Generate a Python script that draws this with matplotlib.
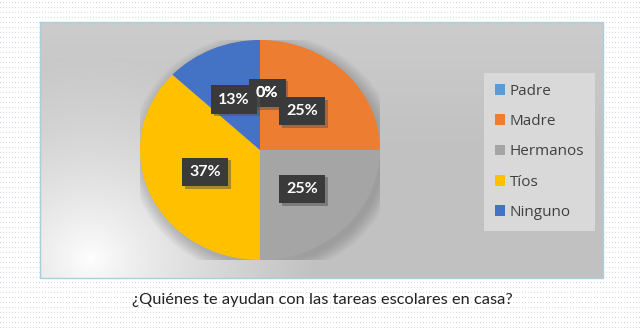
import matplotlib.pyplot as plt
import matplotlib.patheffects as pe
from matplotlib.patches import Circle
import numpy as np

categories = ["Padre", "Madre", "Hermanos", "Tíos", "Ninguno"]
values = [0, 25, 25, 37, 13]
colors = ["#5B9BD5", "#ED7D31", "#A5A5A5", "#FFC000", "#4472C4"]
title = "¿Quiénes te ayudan con las tareas escolares en casa?"

W, H = 640, 330
fig = plt.figure(figsize=(W / 100, H / 100), dpi=100)

# background: white page with faint dot grid, gray chart area with soft light spot
bg = np.ones((H, W, 3))
yy, xx = np.mgrid[0:H, 0:W]
dots = (yy % 5 == 2) & (xx % 3 == 0)
bg[dots] = np.array([0.84, 0.87, 0.90])

x0, x1, y0, y1 = 40, 603, 22, 278
by, bx = np.mgrid[y0:y1, x0:x1]
d = np.hypot((bx - 90) * 0.9, by - 258)
t = np.clip(d / 200, 0, 1) ** 0.8
gray = np.array([0.76, 0.76, 0.76])
top = np.clip((by - y0) / 120, 0, 1)[..., None]
gray_map = gray + (1 - top) * 0.04
bg[y0:y1, x0:x1] = (1 - t[..., None]) * 1.0 + t[..., None] * gray_map

ax_bg = fig.add_axes([0, 0, 1, 1])
ax_bg.imshow(bg, extent=[0, W, H, 0], aspect="auto", interpolation="nearest")
ax_bg.plot([x0, x1, x1, x0, x0], [y0, y0, y1, y1, y0], color="#a9cfdf", lw=1)
ax_bg.set_xlim(0, W)
ax_bg.set_ylim(H, 0)
ax_bg.axis("off")
ax_bg.text(322, 300, title, ha="center", va="center", fontsize=11.8,
           family="Lato", color="#222222")

# pie axes (slightly elliptical like the reference)
cx, cy, rx, ry = 260, 150, 120, 110
ax = fig.add_axes([(cx - rx) / W, (H - cy - ry) / H, 2 * rx / W, 2 * ry / H])

for i in range(10):
    ax.add_patch(Circle((0.03, -0.04), 1.0 + 0.012 * i, color="#555555",
                        alpha=0.035, lw=0, zorder=0))

label_font = dict(color="white", fontsize=11.5, fontweight="bold", family="Lato")
wedges, texts, autotexts = ax.pie(
    values, colors=colors, startangle=90, counterclock=False,
    autopct="%1.0f%%", pctdistance=0.5,
    wedgeprops=dict(linewidth=0), textprops=label_font,
)
for w in wedges:
    w.set_zorder(2)
for at in autotexts:
    at.set_zorder(5)
    at.set_bbox(dict(boxstyle="square,pad=0.45", fc="#3a3a3a", ec="none"))
    at.get_bbox_patch().set_path_effects([
        pe.SimplePatchShadow(offset=(2, -2), shadow_rgbFace="#555555", alpha=0.5),
        pe.Normal()])
# 0% box goes under the 13% box, but its text stays readable on top
zero = autotexts[0]
px, py = zero.get_position()
zx, zy = px + 0.06, py + 0.02
zero.set_position((zx, zy))
zero.set_zorder(4)
ax.text(zx, zy, zero.get_text(), ha="center", va="center", zorder=7, **label_font)
nx, ny = autotexts[4].get_position()
autotexts[4].set_position((nx - 0.02, ny))
ax.set_aspect("auto")
ax.set_xlim(-1, 1)
ax.set_ylim(-1, 1)
ax.axis("off")

leg = fig.legend(
    wedges, categories, loc="upper left",
    bbox_to_anchor=(484 / W, 1 - 73 / H),
    frameon=True, fancybox=False, facecolor="#d9d9d9", edgecolor="none",
    framealpha=1, handlelength=0.7, handleheight=0.7,
    handletextpad=0.3, labelspacing=1.0, borderpad=0.7, borderaxespad=0,
    prop=dict(family="Open Sans", size=11),
)
for txt in leg.get_texts():
    txt.set_color("#404040")

fig.savefig("out.png", dpi=100)
